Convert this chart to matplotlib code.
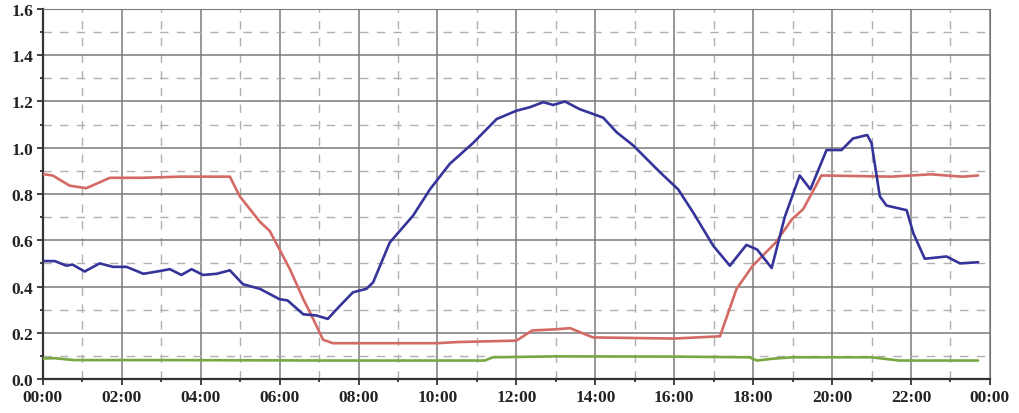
import matplotlib
matplotlib.use("Agg")
import matplotlib.pyplot as plt
from matplotlib.ticker import MultipleLocator, FuncFormatter

# blue series (hours, value)
blue_h = [0.0, 0.3, 0.6, 0.75, 1.06, 1.44, 1.78, 2.12, 2.55, 2.9, 3.22, 3.51, 3.77, 4.06, 4.4, 4.74,
          5.07, 5.5, 6.0, 6.2, 6.6, 6.93, 7.22, 7.53, 7.86, 8.2, 8.37, 8.79, 9.38, 9.81, 10.31,
          10.9, 11.5, 12.0, 12.34, 12.68, 12.93, 13.23, 13.6, 14.2, 14.54, 14.96, 15.64, 16.1,
          16.48, 16.99, 17.41, 17.83, 18.1, 18.47, 18.8, 19.18, 19.45, 19.86, 20.24, 20.53,
          20.89, 21.0, 21.21, 21.38, 21.89, 22.06, 22.35, 22.9, 23.24, 23.7]
blue_v = [0.51, 0.51, 0.49, 0.495, 0.465, 0.50, 0.485, 0.485, 0.455, 0.465, 0.475, 0.45, 0.475, 0.45, 0.455, 0.47,
          0.41, 0.39, 0.345, 0.34, 0.28, 0.275, 0.26, 0.317, 0.375, 0.39, 0.418, 0.59, 0.706, 0.82, 0.93,
          1.02, 1.124, 1.16, 1.175, 1.197, 1.185, 1.2, 1.167, 1.13, 1.067, 1.01, 0.894, 0.82,
          0.72, 0.576, 0.49, 0.58, 0.56, 0.48, 0.70, 0.88, 0.82, 0.99, 0.99, 1.04,
          1.055, 1.02, 0.79, 0.75, 0.73, 0.63, 0.52, 0.53, 0.50, 0.505]

# red series
red_h = [0.0, 0.25, 0.68, 1.1, 1.7, 2.5, 3.5, 4.74, 4.99, 5.5, 5.75, 6.0, 6.26, 6.6, 6.85, 7.1, 7.35,
         10.0, 10.5, 12.0, 12.4, 13.0, 13.36, 13.94, 16.0, 17.16, 17.58, 17.99, 18.57, 18.98,
         19.27, 19.73, 21.5, 22.5, 23.3, 23.7]
red_v = [0.886, 0.88, 0.836, 0.825, 0.87, 0.87, 0.875, 0.875, 0.79, 0.68, 0.64, 0.56, 0.475, 0.346, 0.26, 0.17, 0.155,
         0.155, 0.16, 0.166, 0.21, 0.215, 0.22, 0.18, 0.175, 0.185, 0.39, 0.49, 0.59, 0.69,
         0.735, 0.88, 0.875, 0.885, 0.875, 0.88]

# green series
green_h = [0.0, 0.3, 0.8, 3.0, 7.5, 11.2, 11.4, 13.0, 16.0, 17.9, 18.1, 18.5, 19.0, 21.0, 21.7, 23.7]
green_v = [0.089, 0.09, 0.082, 0.082, 0.08, 0.08, 0.094, 0.098, 0.097, 0.094, 0.08, 0.088, 0.094, 0.094, 0.08, 0.08]

fig = plt.figure(figsize=(10.2, 4.14), dpi=100)
ax = fig.add_axes([0.042, 0.082, 0.9285, 0.894])

kw = dict(lw=1.9, solid_joinstyle="round", solid_capstyle="round")
ax.plot(red_h, red_v, color="#d46a64", zorder=3, **kw)
ax.plot(green_h, green_v, color="#78a842", zorder=3, **kw)
ax.plot(blue_h, blue_v, color="#34349a", zorder=4, **kw)

ax.set_xlim(0, 24)
ax.set_ylim(0, 1.6)
ax.xaxis.set_major_locator(MultipleLocator(2))
ax.xaxis.set_minor_locator(MultipleLocator(1))
ax.yaxis.set_major_locator(MultipleLocator(0.2))
ax.yaxis.set_minor_locator(MultipleLocator(0.1))
ax.xaxis.set_major_formatter(FuncFormatter(lambda v, p: "%02d:00" % (int(round(v)) % 24)))
ax.yaxis.set_major_formatter(FuncFormatter(lambda v, p: "%.1f" % v))

ax.grid(which="major", color="#7a7a7a", lw=1.1, ls="-")
ax.grid(which="minor", color="#b0b0b0", lw=1.0, ls=(0, (6, 6)))
ax.set_axisbelow(True)

for s in ["top", "right"]:
    ax.spines[s].set_color("#7a7a7a")
for s in ["left", "bottom"]:
    ax.spines[s].set_color("#333333")
    ax.spines[s].set_linewidth(1.6)

ax.tick_params(which="major", direction="out", length=4, width=1.3, color="#333333", pad=3)
ax.tick_params(which="minor", direction="out", length=2, width=1.3, color="#333333")
for lab in ax.get_xticklabels() + ax.get_yticklabels():
    lab.set_fontfamily("Liberation Serif")
    lab.set_fontweight("bold")
    lab.set_fontsize(12.5)
    lab.set_color("#222222")

fig.savefig("out.png", dpi=100)
